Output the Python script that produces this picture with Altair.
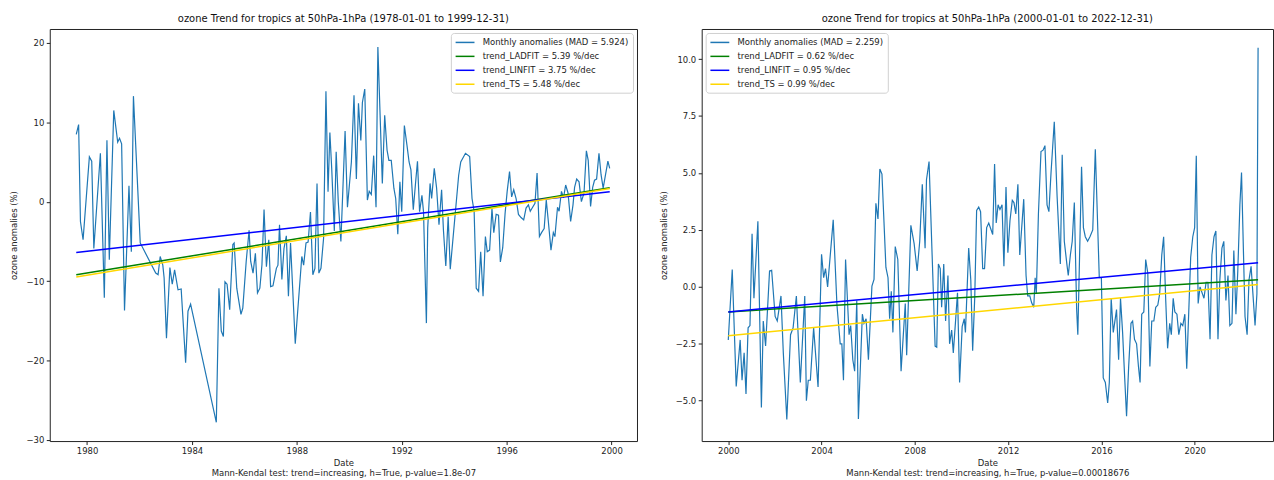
import altair as alt
import pandas as pd

# ---------------- data: left panel (1978-1999) ----------------
left_years = [
    1979.59, 1979.68, 1979.75, 1979.85, 1980.09, 1980.18, 1980.26, 1980.51, 1980.66, 1980.76,
    1980.85, 1981.02, 1981.17, 1981.24, 1981.32, 1981.43, 1981.60, 1981.69, 1981.77, 1982.03,
    1982.62, 1982.71, 1982.79, 1982.89, 1982.94, 1983.03, 1983.16, 1983.25, 1983.34, 1983.47,
    1983.59, 1983.76, 1983.85, 1983.95, 1984.93, 1985.03, 1985.12, 1985.20, 1985.26, 1985.34,
    1985.44, 1985.56, 1985.61, 1985.71, 1985.87, 1985.94, 1986.07, 1986.18, 1986.24, 1986.33,
    1986.42, 1986.50, 1986.59, 1986.67, 1986.75, 1986.84, 1986.93, 1987.00, 1987.09, 1987.22,
    1987.28, 1987.34, 1987.43, 1987.51, 1987.60, 1987.68, 1987.76, 1987.94, 1988.19, 1988.26,
    1988.35, 1988.43, 1988.52, 1988.61, 1988.69, 1988.77, 1988.84, 1988.92, 1989.02, 1989.11,
    1989.19, 1989.26, 1989.33, 1989.43, 1989.50, 1989.58, 1989.68, 1989.84, 1989.93, 1990.08,
    1990.18, 1990.27, 1990.35, 1990.44, 1990.50, 1990.59, 1990.69, 1990.76, 1990.84, 1990.93,
    1991.02, 1991.09, 1991.26, 1991.35, 1991.44, 1991.51, 1991.60, 1991.70, 1991.77, 1991.85,
    1991.93, 1992.00, 1992.10, 1992.20, 1992.28, 1992.35, 1992.44, 1992.52, 1992.60, 1992.68,
    1992.77, 1992.83, 1992.94, 1992.99, 1993.08, 1993.14, 1993.24, 1993.33, 1993.42, 1993.52,
    1993.59, 1993.68, 1993.77, 1993.85, 1994.17, 1994.25, 1994.43, 1994.59, 1994.68, 1994.76,
    1994.84, 1994.93, 1995.01, 1995.10, 1995.19, 1995.26, 1995.35, 1995.44, 1995.51, 1995.60,
    1995.69, 1995.76, 1995.85, 1995.94, 1996.02, 1996.11, 1996.19, 1996.27, 1996.36, 1996.45,
    1996.55, 1996.65, 1996.74, 1996.83, 1996.90, 1996.99, 1997.08, 1997.16, 1997.25, 1997.33,
    1997.43, 1997.51, 1997.59, 1997.69, 1997.78, 1997.84, 1997.94, 1998.00, 1998.09, 1998.17,
    1998.25, 1998.34, 1998.44, 1998.53, 1998.59, 1998.67, 1998.76, 1998.85, 1998.95, 1999.04,
    1999.11, 1999.20, 1999.28, 1999.35, 1999.43, 1999.52, 1999.60, 1999.68, 1999.77, 1999.86,
    1999.93,
]
left_vals = [
    8.47, 9.72, -2.5, -4.8, 5.65, 5.1, -5.9, 6.1, -12.1, 7.75,
    -7.3, 11.5, 7.5, 8.0, 7.3, -13.7, 2.0, -6.3, 13.3, -5.2,
    -9.0, -9.2, -6.9, -8.0, -9.6, -17.2, -8.3, -10.4, -8.6, -11.1,
    -11.0, -20.3, -13.8, -12.9, -27.8, -10.9, -16.3, -17.0, -10.1, -10.4,
    -13.6, -5.4, -5.2, -10.9, -14.2, -13.4, -7.5, -3.6, -7.5, -9.0,
    -6.5, -11.5, -10.9, -7.95, -1.0, -8.2, -4.8, -10.7, -10.6, -8.4,
    -8.0, -2.9, -9.8, -5.9, -4.3, -11.9, -5.2, -17.9, -6.9, -8.0,
    -5.2, -5.1, -1.3, -9.2, -8.4, 2.3, -9.0, -8.4, -4.6, 13.9,
    1.26, 8.7, 4.2, -3.7, 6.3, 0.0, -5.0, 8.9, -0.7, 5.0,
    13.4, 2.85, 12.4, 7.7, 12.5, 14.2, 0.2, 1.3, 0.9, 5.8,
    -0.7, 19.5, 2.3, 10.9, 6.5, 5.2, 5.2, 1.7, 0.4, -4.1,
    2.5, -1.25, 9.6, 7.1, 5.0, 4.0, -1.0, 2.1, 5.1, -1.25,
    0.8, -1.25, -15.3, -3.3, 2.3, 0.4, 4.2, 1.7, -2.9, 1.5,
    -3.6, -8.1, -1.9, -8.5, 3.3, 5.0, 6.1, 5.7, 0.4, -1.2,
    -10.9, -11.3, -6.3, -11.9, -4.4, -6.3, -6.1, -0.9, -3.9, -1.6,
    -1.7, -7.6, -5.8, -1.5, 1.3, 3.8, 0.6, 1.5, 0.4, -1.6,
    -2.0, -2.3, -0.8, -0.4, -1.2, -0.7, -0.2, 3.6, -4.4, -3.9,
    -3.4, 0.2, -2.5, -6.1, -3.9, -4.4, -0.7, -1.2, 1.3, 0.5,
    2.1, 1.1, -2.5, -0.4, 1.8, 2.85, 2.5, 0.0, 1.1, 6.4,
    5.2, -0.6, 1.8, 2.7, 2.85, 6.1, 3.4, 1.7, 3.4, 5.1,
    4.2,
]
left_trend_x = [1979.59, 1999.93]
left_ladfit = [-9.2, 1.75]
left_linfit = [-6.4, 1.25]
left_ts = [-9.5, 1.65]

# ---------------- data: right panel (2000-2022) ----------------
right_years = [
    2000.00, 2000.17, 2000.34, 2000.51, 2000.59, 2000.68, 2000.76, 2000.85, 2000.93, 2001.02,
    2001.10, 2001.27, 2001.42, 2001.50, 2001.60, 2001.77, 2001.86, 2002.01, 2002.10, 2002.26,
    2002.36, 2002.51, 2002.67, 2002.78, 2002.92, 2003.09, 2003.28, 2003.35, 2003.43, 2003.52,
    2003.66, 2003.85, 2004.00, 2004.09, 2004.17, 2004.26, 2004.50, 2004.66, 2004.80, 2004.87,
    2004.94, 2005.03, 2005.18, 2005.25, 2005.34, 2005.42, 2005.51, 2005.58, 2005.75, 2005.82,
    2005.91, 2006.01, 2006.16, 2006.25, 2006.33, 2006.42, 2006.50, 2006.59, 2006.76, 2006.85,
    2006.92, 2006.99, 2007.06, 2007.16, 2007.27, 2007.41, 2007.59, 2007.65, 2007.83, 2007.97,
    2008.10, 2008.21, 2008.32, 2008.44, 2008.50, 2008.61, 2008.87, 2008.94, 2009.01, 2009.09,
    2009.15, 2009.24, 2009.32, 2009.42, 2009.49, 2009.58, 2009.65, 2009.75, 2009.83, 2009.92,
    2010.03, 2010.12, 2010.17, 2010.31, 2010.40, 2010.48, 2010.57, 2010.65, 2010.74, 2010.82,
    2010.91, 2010.99, 2011.08, 2011.17, 2011.34, 2011.42, 2011.49, 2011.57, 2011.65, 2011.74,
    2011.82, 2011.91, 2011.99, 2012.08, 2012.18, 2012.25, 2012.33, 2012.42, 2012.50, 2012.67,
    2012.77, 2012.84, 2012.93, 2013.01, 2013.10, 2013.16, 2013.21, 2013.30, 2013.41, 2013.50,
    2013.58, 2013.67, 2013.75, 2013.84, 2013.98, 2014.10, 2014.24, 2014.32, 2014.41, 2014.52,
    2014.58, 2014.67, 2014.75, 2014.84, 2014.94, 2014.99, 2015.15, 2015.23, 2015.31, 2015.41,
    2015.51, 2015.63, 2015.74, 2015.91, 2016.00, 2016.08, 2016.17, 2016.27, 2016.34, 2016.42,
    2016.51, 2016.65, 2016.74, 2016.82, 2016.91, 2017.00, 2017.08, 2017.17, 2017.27, 2017.34,
    2017.42, 2017.51, 2017.59, 2017.66, 2017.73, 2017.82, 2017.90, 2017.99, 2018.08, 2018.16,
    2018.25, 2018.33, 2018.42, 2018.50, 2018.59, 2018.67, 2018.76, 2018.84, 2018.93, 2019.00,
    2019.08, 2019.15, 2019.24, 2019.32, 2019.41, 2019.49, 2019.58, 2019.66, 2019.83, 2019.92,
    2020.00, 2020.07, 2020.15, 2020.23, 2020.40, 2020.49, 2020.57, 2020.66, 2020.74, 2020.83,
    2020.91, 2021.00, 2021.08, 2021.17, 2021.25, 2021.34, 2021.43, 2021.51, 2021.60, 2021.68,
    2021.77, 2021.85, 2021.94, 2022.01, 2022.16, 2022.25, 2022.33, 2022.42, 2022.59, 2022.67,
    2022.72,
]
right_vals = [
    -2.33, 0.76, -4.37, -2.33, -4.1, -2.9, -4.7, -1.8, -1.7, 2.33,
    -0.5, 2.88, -5.3, -1.5, -2.6, 0.7, 0.73, -1.3, -1.5, -0.4,
    -2.9, -5.82, -2.1, -1.8, -0.4, -4.2, -0.4, -5.0, -4.1, -4.1,
    -1.8, -4.4, 1.43, 0.4, 0.8, 0.0, 2.94, -0.8, -2.5, -2.5,
    -4.1, 1.2, -2.1, -1.7, -3.2, -3.7, -0.6, -5.8, -1.2, -1.6,
    -1.4, -3.2, 0.03, 0.33, 3.67, 2.98, 5.17, 4.95, 0.85, 0.4,
    -1.4, -0.2, -2.0, 1.77, 1.2, -3.7, -0.73, -3.0, 2.7, 1.9,
    0.7, 2.0, 4.5, 1.7, 4.7, 5.5, -2.6, -2.65, 1.0, 0.8,
    -0.9, 1.0, -1.5, 0.5, -2.5, -1.9, -2.9, -1.45, -0.26, -4.2,
    -1.75, -1.4, -2.0, 1.7, 0.3, -2.8, -0.44, 3.35, 3.5, 3.3,
    0.8, 0.8, 2.6, 2.8, 2.3, 5.39, 2.8, 3.6, 3.4, 3.6,
    0.9, 4.38, 1.5, 2.9, 3.8, 3.7, 3.2, 4.5, 1.4, 3.85,
    0.5, -0.4, -0.4, -0.7, -0.9, 0.4, -0.3, 3.2, 5.94, 6.0,
    6.2, 3.6, 3.3, 5.0, 7.25, 4.0, 1.0, 5.8, 2.0, 1.0,
    0.5, 1.4, 2.0, 3.7, -1.0, -2.1, 5.27, 2.6, 2.2, 2.0,
    2.2, 2.5, 6.04, 0.4, 0.4, -4.0, -4.2, -5.1, -4.2, -0.5,
    -2.0, -1.0, -3.2, -0.5, -2.0, -4.0, -5.68, -3.5, -1.6, -1.5,
    -2.3, -2.5, -3.5, -4.2, -1.2, -1.1, 1.2, 0.6, -3.5, -1.5,
    -1.5, -0.9, -0.8, -0.3, 1.4, 2.2, -0.6, -2.7, -1.6, -2.1,
    -0.5, -1.1, -1.2, -2.1, -1.6, -1.7, -1.2, -3.6, 1.3, 2.2,
    2.6, 5.75, -0.73, 0.0, -0.5, 0.2, 0.2, -2.3, 1.4, 2.2,
    2.45, -2.3, 0.3, 1.7, 2.0, -0.6, 0.5, -1.7, -1.6, 1.6,
    -1.2, 0.7, 3.6, 5.02, -1.3, -2.1, 0.3, 0.9, -1.7, -0.3,
    10.5,
]
right_trend_x = [2000.0, 2022.72]
right_ladfit = [-1.1, 0.31]
right_linfit = [-1.1, 1.06]
right_ts = [-2.15, 0.1]

left_labels = ["Monthly anomalies (MAD = 5.924)", "trend_LADFIT = 5.39 %/dec",
               "trend_LINFIT = 3.75 %/dec", "trend_TS = 5.48 %/dec"]
right_labels = ["Monthly anomalies (MAD = 2.259)", "trend_LADFIT = 0.62 %/dec",
                "trend_LINFIT = 0.95 %/dec", "trend_TS = 0.99 %/dec"]
colors = ["#1f77b4", "#008000", "#0000ff", "#ffd700"]

left_title = "ozone Trend for tropics at 50hPa-1hPa (1978-01-01 to 1999-12-31)"
right_title = "ozone Trend for tropics at 50hPa-1hPa (2000-01-01 to 2022-12-31)"
left_xtitle = ["Date", "Mann-Kendal test: trend=increasing, h=True, p-value=1.8e-07"]
right_xtitle = ["Date", "Mann-Kendal test: trend=increasing, h=True, p-value=0.00018676"]

FONT = "DejaVu Sans"


def panel(years, vals, tx, lad, lin, ts, labels, xdom, xticks, ydom, yticks, yfmt,
          title, xtitle, orient, width):
    anom = pd.DataFrame({"x": years, "y": vals, "s": labels[0]})
    trend = pd.concat([
        pd.DataFrame({"x": tx, "y": lad, "s": labels[1]}),
        pd.DataFrame({"x": tx, "y": lin, "s": labels[2]}),
        pd.DataFrame({"x": tx, "y": ts, "s": labels[3]}),
    ])
    x = alt.X("x:Q", scale=alt.Scale(domain=xdom, nice=False, zero=False),
              axis=alt.Axis(values=xticks, format="d", title=xtitle))
    y = alt.Y("y:Q", scale=alt.Scale(domain=ydom, nice=False, zero=False),
              axis=alt.Axis(values=yticks, format=yfmt, title="ozone anomalies (%)"))
    color = alt.Color("s:N", sort=labels,
                      scale=alt.Scale(domain=labels, range=colors),
                      legend=alt.Legend(title=None, orient=orient, offset=4,
                                        symbolType="M-1,0L3,0", symbolSize=90,
                                        symbolStrokeWidth=1.5, labelOffset=17,
                                        labelFontSize=8.5, labelFont=FONT,
                                        labelColor="#222222", labelLimit=400,
                                        padding=4, rowPadding=4,
                                        fillColor="white", strokeColor="#d0d0d0",
                                        cornerRadius=3))
    a = alt.Chart(anom).mark_line(strokeWidth=1.2).encode(x=x, y=y, color=color, order="x:Q")
    t = alt.Chart(trend).mark_line(strokeWidth=1.5).encode(x=x, y=y, color=color, detail="s:N")
    return alt.layer(a, t).properties(
        width=width, height=414,
        title=alt.TitleParams(title, fontSize=10, font=FONT, fontWeight="normal",
                              color="#111111", offset=5, anchor="middle"))


left = panel(left_years, left_vals, left_trend_x, left_ladfit, left_linfit, left_ts,
             left_labels, [1978.58, 2000.97], [1980, 1984, 1988, 1992, 1996, 2000],
             [-30.16, 21.76], [-30, -20, -10, 0, 10, 20], "d",
             left_title, left_xtitle, "top-right", 590)
right = panel(right_years, right_vals, right_trend_x, right_ladfit, right_linfit, right_ts,
              right_labels, [1998.86, 2023.36], [2000, 2004, 2008, 2012, 2016, 2020],
              [-6.77, 11.32], [-5, -2.5, 0, 2.5, 5, 7.5, 10], ".1f",
              right_title, right_xtitle, "top-left", 574)

chart = alt.hconcat(left, right, spacing=20).resolve_scale(color="independent").properties(
    padding={"left": 9, "top": 12, "right": 0, "bottom": 0}
).configure_view(stroke="#222222", strokeWidth=1).configure_axis(
    grid=False, domain=False, ticks=True, tickSize=3.5, tickColor="#222222",
    labelFont=FONT, labelFontSize=8.5, labelColor="#222222", labelPadding=2.5,
    titleFont=FONT, titleFontSize=8.5, titleFontWeight="normal", titleColor="#222222",
    titlePadding=3, titleLineHeight=10
).configure_axisY(titlePadding=7)

chart.save("out.html", embed_options={"renderer": "svg", "actions": False})
